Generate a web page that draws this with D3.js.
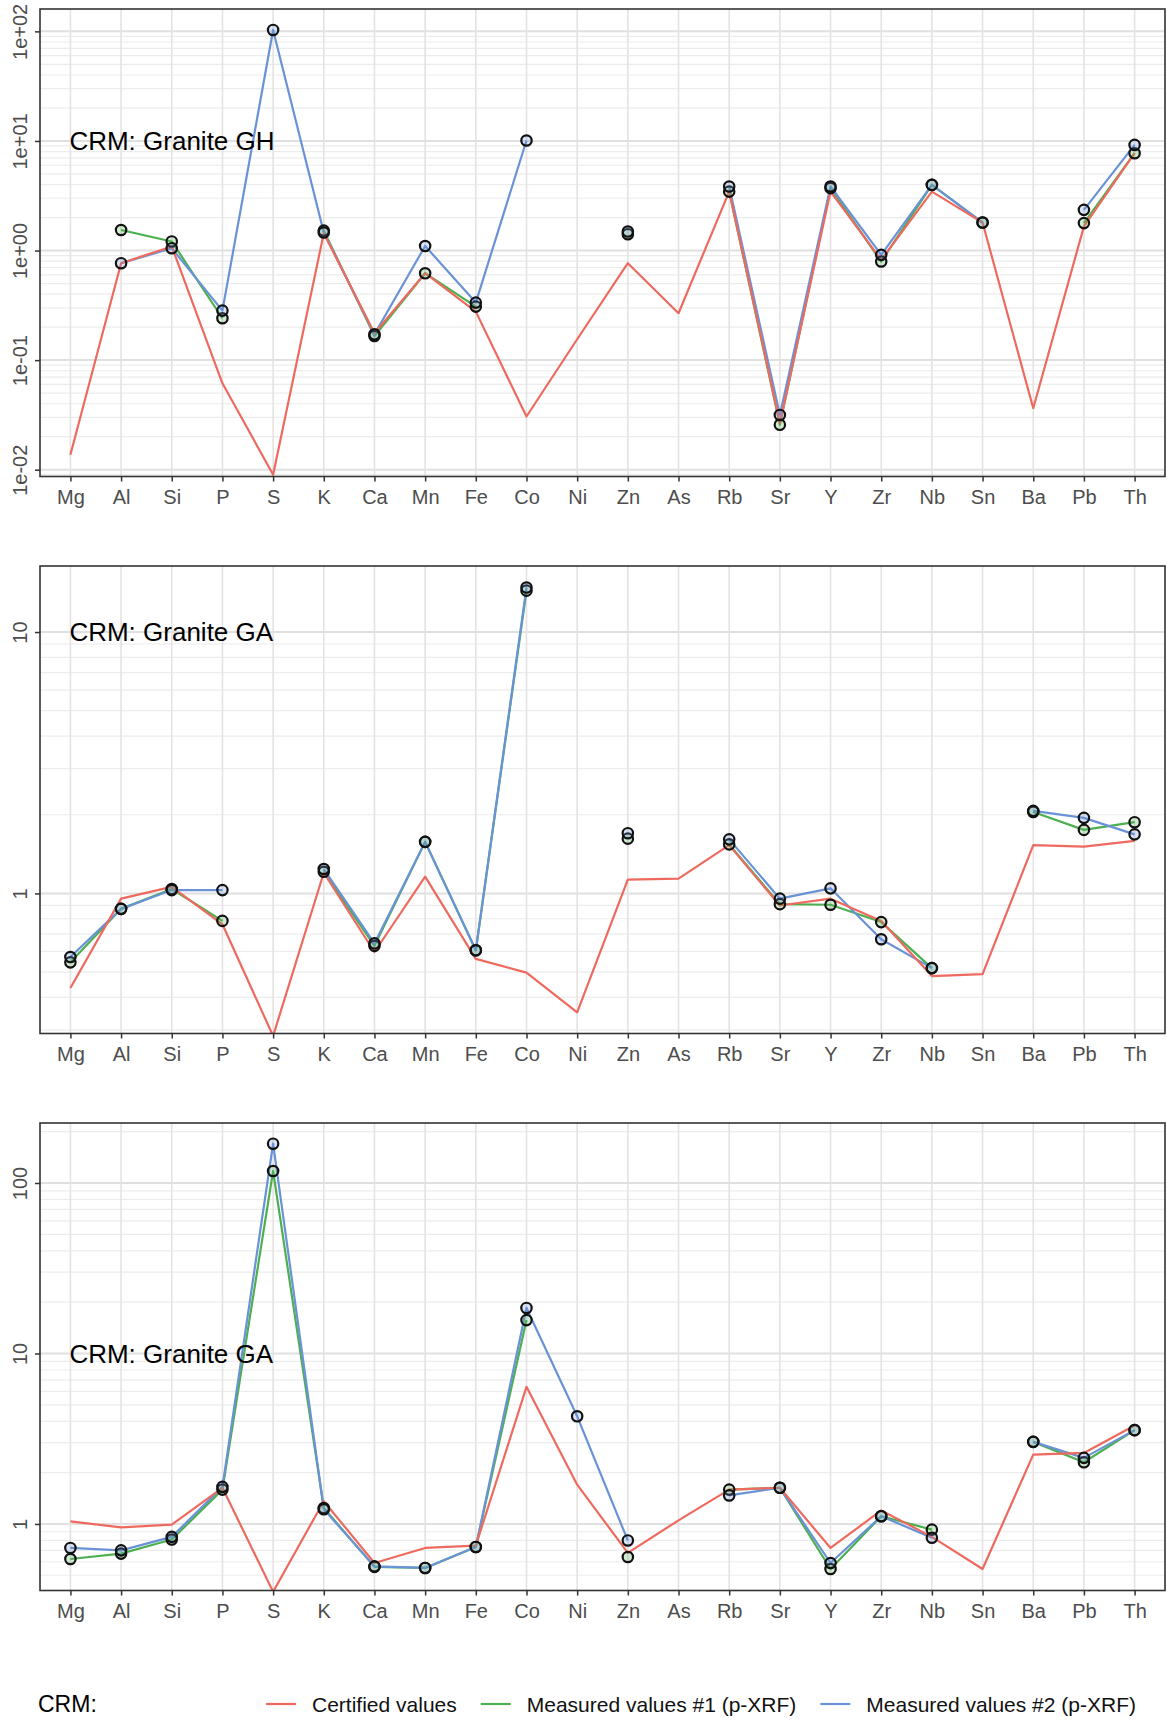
<!DOCTYPE html>
<html lang="en">
<head>
    <meta charset="UTF-8">
    <title>CRM: certified vs measured</title>
    <script src="https://d3js.org/d3.v7.min.js"></script>
    <style>
        body {
            margin: 0;
            background: #fff;
        }

        svg {
            display: block;
            font-family: "Liberation Sans", Arial, sans-serif;
        }

        .axis text {
            fill: #4d4d4d;
            font-size: 20px;
        }

        .axis line {
            stroke: #333;
            stroke-width: 1.5;
        }

        .axis path {
            display: none;
        }
    </style>
</head>
<body>
<div id="graphArea"></div>
<script>
let elements = ['Mg', 'Al', 'Si', 'P', 'S', 'K', 'Ca', 'Mn', 'Fe', 'Co', 'Ni', 'Zn', 'As', 'Rb', 'Sr', 'Y', 'Zr', 'Nb', 'Sn', 'Ba', 'Pb', 'Th']

// Granite GH
let ghCertified = [0.0137, 0.766, 1.09, 0.0615, 0.009, 1.44, 0.176, 0.621, 0.277, 0.0306, 0.155, 0.766, 0.268, 3.45, 0.0266, 3.45, 0.822, 3.45, 1.80, 0.0364, 1.66, 7.73]
let ghMeasured1 = [null, 1.54, 1.21, 0.241, null, 1.52, 0.166, 0.62, 0.308, null, null, 1.41, null, 3.45, 0.0257, 3.71, 0.794, 3.97, 1.80, null, 1.78, 7.73]
let ghMeasured2 = [null, 0.766, 1.05, 0.283, 103, 1.46, 0.172, 1.10, 0.335, 10.1, null, 1.49, null, 3.84, 0.0316, 3.84, 0.913, 3.97, 1.80, null, 2.35, 9.2]
let ghTicks = [0.01, 0.1, 1, 10, 100]
let ghTickLabels = ['1e-02', '1e-01', '1e+00', '1e+01', '1e+02']

// Granite GA
let gaCertified = [0.435, 0.955, 1.06, 0.762, 0.285, 1.2, 0.597, 1.16, 0.562, 0.498, 0.351, 1.13, 1.14, 1.53, 0.899, 0.955, 0.785, 0.483, 0.491, 1.53, 1.51, 1.59]
let gaMeasured1 = [0.545, 0.873, 1.04, 0.785, null, 1.21, 0.63, 1.575, 0.606, 14.4, null, 1.62, null, 1.54, 0.91, 0.905, 0.777, 0.518, null, 2.05, 1.75, 1.873]
let gaMeasured2 = [0.571, 0.873, 1.03, 1.03, null, 1.24, 0.644, 1.575, 0.606, 14.8, null, 1.70, null, 1.61, 0.955, 1.046, 0.668, 0.518, null, 2.07, 1.946, 1.683]
let gaTicks = [1, 10]
let gaTickLabels = ['1', '10']

// Granite GA (second set)
let ga2Certified = [1.035, 0.955, 0.99, 1.63, 0.4, 1.36, 0.59, 0.723, 0.746, 6.37, 1.70, 0.676, 1.05, 1.59, 1.63, 0.723, 1.2, 0.84, 0.544, 2.55, 2.61, 3.78]
let ga2Measured1 = [0.623, 0.67, 0.81, 1.59, 117.6, 1.24, 0.56, 0.552, 0.733, 15.7, null, 0.64, null, 1.59, 1.63, 0.544, 1.11, 0.926, null, 3.03, 2.30, 3.55]
let ga2Measured2 = [0.723, 0.70, 0.84, 1.65, 170, 1.22, 0.564, 0.552, 0.733, 18.5, 4.28, 0.80, null, 1.47, 1.63, 0.59, 1.11, 0.83, null, 3.03, 2.44, 3.55]
let ga2Ticks = [1, 10, 100]
let ga2TickLabels = ['1', '10', '100']

let seriesNames = ['Certified values', 'Measured values #1 (p-XRF)', 'Measured values #2 (p-XRF)']
let seriesColors = ['#ee6a5f', '#4cb050', '#6a92d6']

let panels = [
    {title: 'CRM: Granite GH', certified: ghCertified, m1: ghMeasured1, m2: ghMeasured2, domain: [0.00867, 160], ticks: ghTicks, labels: ghTickLabels},
    {title: 'CRM: Granite GA', certified: gaCertified, m1: gaMeasured1, m2: gaMeasured2, domain: [0.2912, 17.89], ticks: gaTicks, labels: gaTickLabels},
    {title: 'CRM: Granite GA', certified: ga2Certified, m1: ga2Measured1, m2: ga2Measured2, domain: [0.407, 224.9], ticks: ga2Ticks, labels: ga2TickLabels},
]

let left = 40, right = 1165, panelH = 467.5

let svg = d3.select('#graphArea').append('svg')
    .attr('width', 1167)
    .attr('height', 1722)

let x = d3.scalePoint().domain(elements).range([left, right]).padding(0.6)

panels.forEach((p, pi) => {
    let top = 9 + pi * 557
    let bottom = top + panelH
    let y = d3.scaleLog().domain(p.domain).range([bottom, top])
    let g = svg.append('g')

    svg.append('clipPath').attr('id', 'clip' + pi)
        .append('rect')
        .attr('x', left).attr('y', top)
        .attr('width', right - left).attr('height', panelH)

    // grid: minor (every k*10^n), then major at labelled ticks
    g.append('g').selectAll('line')
        .data(y.ticks().filter(t => !p.ticks.includes(t)))
        .enter().append('line')
        .attr('x1', left).attr('x2', right)
        .attr('y1', d => y(d)).attr('y2', d => y(d))
        .attr('stroke', '#ececec')
        .attr('stroke-width', 1.2)
    g.append('g').selectAll('line')
        .data(p.ticks)
        .enter().append('line')
        .attr('x1', left).attr('x2', right)
        .attr('y1', d => y(d)).attr('y2', d => y(d))
        .attr('stroke', '#e0e0e0')
        .attr('stroke-width', 2)
    g.append('g').selectAll('line')
        .data(elements)
        .enter().append('line')
        .attr('x1', d => x(d)).attr('x2', d => x(d))
        .attr('y1', top).attr('y2', bottom)
        .attr('stroke', '#e6e2e2')
        .attr('stroke-width', 1.6)

    // lines: green, blue, then red on top
    let line = d3.line()
        .defined(d => d != null)
        .x((d, i) => x(elements[i]))
        .y(d => y(d))
    let plotArea = g.append('g').attr('clip-path', 'url(#clip' + pi + ')')
    let order = [[p.m1, seriesColors[1]], [p.m2, seriesColors[2]], [p.certified, seriesColors[0]]]
    order.forEach(s => {
        plotArea.append('path')
            .datum(s[0])
            .attr('d', line)
            .attr('fill', 'none')
            .attr('stroke', s[1])
            .attr('stroke-width', 2.2)
            .attr('stroke-linejoin', 'round')
    })

    // measured points
    ;[[p.m1, seriesColors[1]], [p.m2, seriesColors[2]]].forEach(s => {
        plotArea.append('g').selectAll('circle')
            .data(s[0].map((v, i) => [elements[i], v]).filter(d => d[1] != null))
            .enter().append('circle')
            .attr('cx', d => x(d[0]))
            .attr('cy', d => y(d[1]))
            .attr('r', 5.2)
            .attr('fill', s[1])
            .attr('fill-opacity', 0.25)
            .attr('stroke', '#111')
            .attr('stroke-width', 2.2)
    })

    g.append('text')
        .attr('x', x(elements[0]) - 1)
        .attr('y', y(10))
        .attr('dy', '0.36em')
        .attr('font-size', 26)
        .attr('fill', '#000')
        .text(p.title)

    // frame
    g.append('rect')
        .attr('x', left).attr('y', top)
        .attr('width', right - left).attr('height', panelH)
        .attr('fill', 'none')
        .attr('stroke', '#333')
        .attr('stroke-width', 1.6)

    // axes
    g.append('g').attr('class', 'axis')
        .attr('transform', 'translate(0,' + bottom + ')')
        .call(d3.axisBottom(x).tickSize(5).tickPadding(8))

    let yAxis = g.append('g').attr('class', 'axis')
        .attr('transform', 'translate(' + left + ',0)')
        .call(d3.axisLeft(y).tickValues(p.ticks).tickSize(5)
            .tickFormat((d, i) => p.labels[i]))
    yAxis.selectAll('text')
        .attr('x', null)
        .attr('dy', null)
        .attr('text-anchor', 'middle')
        .attr('transform', 'translate(-13,0) rotate(-90)')
})

// legend
let legendY = 1704
svg.append('text')
    .attr('x', 38).attr('y', legendY)
    .attr('dy', '0.36em')
    .attr('font-size', 23)
    .text('CRM:')

let lx = 266
seriesNames.forEach((name, i) => {
    svg.append('line')
        .attr('x1', lx).attr('x2', lx + 30)
        .attr('y1', legendY).attr('y2', legendY)
        .attr('stroke', seriesColors[i])
        .attr('stroke-width', 2.2)
    let t = svg.append('text')
        .attr('x', lx + 46).attr('y', legendY)
        .attr('dy', '0.36em')
        .attr('font-size', 21)
        .attr('fill', '#111')
        .text(name)
    lx += 46 + t.node().getComputedTextLength() + 24
})
</script>
</body>
</html>
